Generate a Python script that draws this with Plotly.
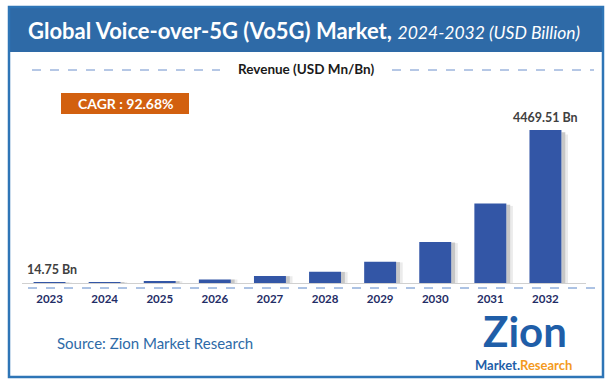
import plotly.graph_objects as go

years = ["2023", "2024", "2025", "2026", "2027", "2028", "2029", "2030", "2031", "2032"]
revenue = [14.75, 28.4, 54.8, 105.6, 203.5, 329.0, 620.0, 1200.0, 2320.0, 4469.51]
bar_labels = ["14.75 Bn", "", "", "", "", "", "", "", "", "4469.51 Bn"]
title_main = "Global Voice-over-5G (Vo5G) Market,"
title_sub = "2024-2032 (USD Billion)"
legend_text = "Revenue (USD Mn/Bn)"
cagr_text = "CAGR : 92.68%"
source_text = "Source: Zion Market Research"

W, H = 612, 386
FONT = "Lato"

def px(x):
    return x / W

def py(y):
    return 1 - y / H

fig = go.Figure()

# shadow
fig.add_trace(go.Bar(x=years, y=[v * 0.985 for v in revenue], width=0.07, offset=0.29,
                     marker=dict(color="rgba(0,0,0,0.22)", line=dict(width=0)),
                     hoverinfo="skip", showlegend=False))
fig.add_trace(go.Bar(x=years, y=[v * 0.97 for v in revenue], width=0.05, offset=0.36,
                     marker=dict(color="rgba(0,0,0,0.08)", line=dict(width=0)),
                     hoverinfo="skip", showlegend=False))
fig.add_trace(go.Bar(x=years, y=revenue, width=0.58, offset=-0.29,
                     marker=dict(color="#3356A6", line=dict(width=0)),
                     showlegend=False))

fig.update_layout(
    width=W, height=H,
    margin=dict(l=0, r=0, t=0, b=0, autoexpand=False),
    paper_bgcolor="white", plot_bgcolor="white",
    barmode="overlay",
    font=dict(family=FONT),
    xaxis=dict(domain=[px(22), px(573)], type="category", range=[-0.5, 9.5], autorange=False,
               automargin=False, showgrid=False, zeroline=False,
               showline=False, ticks="outside", ticklen=5, tickcolor="rgba(0,0,0,0)",
               tickfont=dict(family=FONT, size=11.5, color="#1F2D66", weight="bold")),
    yaxis=dict(domain=[py(283), py(110)], range=[0, 5050], autorange=False, visible=False,
               showgrid=False, automargin=False),
)

shapes = []
# frame
shapes.append(dict(type="rect", xref="paper", yref="paper", x0=px(9), x1=px(603), y0=py(377), y1=py(7),
                   line=dict(color="#2E75B6", width=2.5), fillcolor="rgba(0,0,0,0)", layer="above"))
# title band
shapes.append(dict(type="rect", xref="paper", yref="paper", x0=px(9), x1=px(603), y0=py(52), y1=py(7),
                   line=dict(width=0), fillcolor="#2E6AA7", layer="below"))
# legend dashed lines
shapes.append(dict(type="line", xref="paper", yref="paper", x0=px(32), x1=px(220), y0=py(70), y1=py(70),
                   line=dict(color="#6C90CC", width=1, dash="dash")))
shapes.append(dict(type="line", xref="paper", yref="paper", x0=px(392), x1=px(594), y0=py(70), y1=py(70),
                   line=dict(color="#6C90CC", width=1, dash="dash")))
# axis line
shapes.append(dict(type="line", xref="paper", yref="paper", x0=px(22), x1=px(586), y0=py(283.5), y1=py(283.5),
                   line=dict(color="#D0D0D0", width=1.2)))
# dashed line under axis
shapes.append(dict(type="line", xref="paper", yref="paper", x0=px(28), x1=px(596), y0=py(288), y1=py(288),
                   line=dict(color="#5B86C8", width=1, dash="dash")))
# CAGR box
shapes.append(dict(type="rect", xref="paper", yref="paper", x0=px(61), x1=px(189), y0=py(114), y1=py(93),
                   line=dict(width=0), fillcolor="#D2600F"))
fig.update_layout(shapes=shapes)

ann = []
ann.append(dict(xref="paper", yref="paper", x=px(304), y=py(31), xanchor="center", yanchor="middle",
                showarrow=False,
                text=f"<b>{title_main}</b> <i><span style='font-size:17.5px'>{title_sub}</span></i>",
                font=dict(family=FONT, size=22, color="white")))
ann.append(dict(xref="paper", yref="paper", x=px(306), y=py(69), xanchor="center", yanchor="middle",
                showarrow=False, text=f"<b>{legend_text}</b>",
                font=dict(family=FONT, size=13.5, color="#1A1A1A")))
ann.append(dict(xref="paper", yref="paper", x=px(126), y=py(103.5), xanchor="center", yanchor="middle",
                showarrow=False, text=f"<b>{cagr_text}</b>",
                font=dict(family=FONT, size=14, color="white")))
# value labels
ann.append(dict(xref="paper", yref="y", x=px(25), y=revenue[0], xanchor="left", yanchor="bottom",
                yshift=3, showarrow=False, text=f"<b>{bar_labels[0]}</b>",
                font=dict(family=FONT, size=12.5, color="#404040")))
ann.append(dict(xref="x", yref="y", x=9, y=revenue[-1], xanchor="center", yanchor="bottom",
                yshift=3, showarrow=False, text=f"<b>{bar_labels[-1]}</b>",
                font=dict(family=FONT, size=12.5, color="#404040")))
# source
ann.append(dict(xref="paper", yref="paper", x=px(55), y=py(343), xanchor="left", yanchor="middle",
                showarrow=False, text=source_text,
                font=dict(family=FONT, size=15, color="#2E6AA7")))
# logo (text approximation)
ann.append(dict(xref="paper", yref="paper", x=px(525), y=py(331), xanchor="center", yanchor="middle",
                showarrow=False, text="<b>Zion</b>",
                font=dict(family=FONT, size=42, color="#1F5EA8")))
ann.append(dict(xref="paper", yref="paper", x=px(523), y=py(365), xanchor="center", yanchor="middle",
                showarrow=False,
                text="<b><span style='color:#1F5EA8'>Market.</span><span style='color:#F39A1E'>Research</span></b>",
                font=dict(family=FONT, size=13)))
fig.update_layout(annotations=ann)

fig.write_html("out.html", config={"displayModeBar": False},
               post_script="document.body.style.margin='0';document.body.style.padding='0';")
